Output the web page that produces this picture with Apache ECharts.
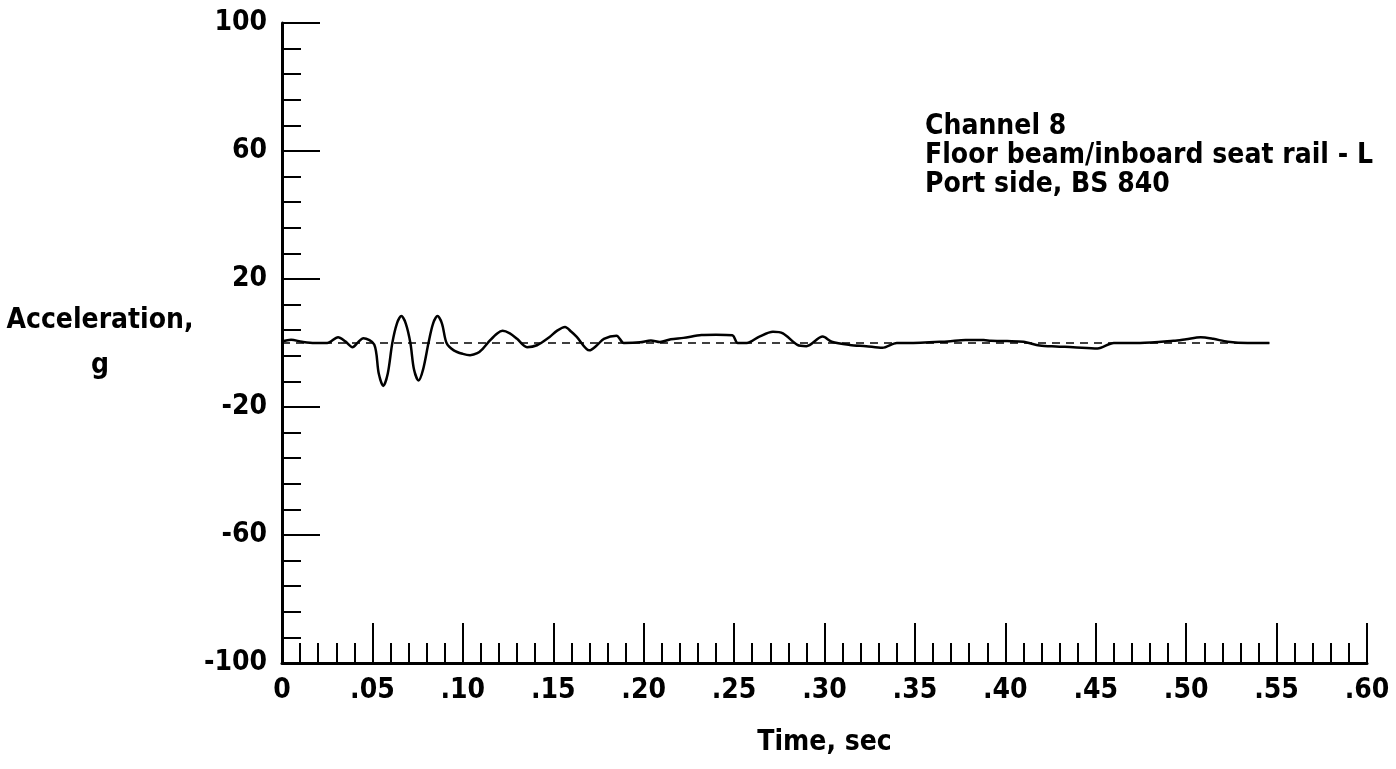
<!DOCTYPE html>
<html>
<head>
<meta charset="utf-8">
<script src="https://cdn.jsdelivr.net/npm/echarts@6/dist/echarts.min.js"></script>
<style>
  html, body { margin: 0; padding: 0; background: #fff; }
  #chart { width: 1396px; height: 769px; }
</style>
</head>
<body>
<div id="chart"></div>
<script>
// values: time (sec) and acceleration (g)
var timeSec = [
  0, 0.005, 0.011, 0.018, 0.025, 0.031, 0.035, 0.039, 0.042, 0.045, 0.051,
  0.0535, 0.056, 0.0585, 0.061, 0.0635, 0.066, 0.0685, 0.071, 0.073, 0.0755,
  0.078, 0.081, 0.0835, 0.086, 0.0885, 0.091, 0.095, 0.100, 0.104, 0.108,
  0.111, 0.115, 0.119, 0.122, 0.126, 0.130, 0.1355, 0.141, 0.148, 0.152,
  0.1565, 0.160, 0.163, 0.170, 0.174, 0.178, 0.185, 0.189, 0.198, 0.204,
  0.209, 0.215, 0.222, 0.232, 0.240, 0.249, 0.252, 0.257, 0.264, 0.2715,
  0.277, 0.285, 0.290, 0.299, 0.304, 0.314, 0.323, 0.332, 0.340, 0.346,
  0.368, 0.378, 0.388, 0.392, 0.401, 0.410, 0.419, 0.428, 0.4375, 0.451,
  0.460, 0.4745, 0.493, 0.500, 0.508, 0.515, 0.523, 0.534, 0.546
];
var accelG = [
  0.5, 1.0, 0.4, 0, 0, 1.8, 0.5, -1.3, 0.2, 1.5, -0.5,
  -9.5, -13.4, -9.5, 0, 6, 8.4, 6, 0, -8.3, -11.7,
  -8.3, 0, 6, 8.4, 6, 0, -2.3, -3.4, -3.8, -3.2,
  -1.8, 0.8, 3.0, 3.8, 3.0, 1.3, -1.3, -0.7, 1.9, 3.8,
  5.0, 3.5, 1.9, -2.3, -0.8, 1.3, 2.3, 0, 0.2, 0.8,
  0.3, 1.2, 1.6, 2.5, 2.6, 2.4, 0, 0, 2.0, 3.5,
  3.0, -0.6, -1.0, 2.0, 0.4, -0.6, -1.0, -1.5, 0, 0,
  0.5, 0.9, 0.9, 0.7, 0.6, 0.4, -0.8, -1.1, -1.3, -1.7,
  0, 0, 0.7, 1.2, 1.8, 1.3, 0.4, 0, 0
];

var xTickStep = 0.05;
var yMajorTicks = [-100, -60, -20, 20, 60, 100];
var yMinorTicks = [-92, -84, -76, -68, -52, -44, -36, -28, -12, -4, 4, 12, 28, 36, 44, 52, 68, 76, 84, 92];
var zeroLineEnd = 0.546;

var noteText = 'Channel 8\nFloor beam/inboard seat rail - L\nPort side, BS 840';

var FONT = '"Liberation Sans Narrow", "DejaVu Sans Condensed", sans-serif';

var seriesData = timeSec.map(function (t, i) { return [t, accelG[i]]; });

var chart = echarts.init(document.getElementById('chart'));

chart.setOption({
  backgroundColor: '#fff',
  animation: false,
  title: {
    text: noteText,
    left: 925,
    top: 112,
    padding: 0,
    textStyle: {
      fontFamily: FONT, fontWeight: 'bold', fontSize: 28,
      lineHeight: 29, color: '#000'
    }
  },
  grid: {
    left: 282, right: 29, top: 23, bottom: 106,
    containLabel: false, outerBoundsMode: 'none'
  },
  xAxis: {
    type: 'value',
    min: 0,
    max: 0.6,
    interval: xTickStep,
    name: 'Time, sec',
    nameLocation: 'middle',
    nameGap: 66,
    nameTextStyle: { fontFamily: FONT, fontWeight: 'bold', fontSize: 28, color: '#000' },
    axisLine: { show: true, onZero: false, lineStyle: { color: '#000', width: 3 } },
    axisTick: { show: true, inside: true, length: 40, lineStyle: { color: '#000', width: 2 } },
    minorTick: { show: true, splitNumber: 5, length: 20, lineStyle: { color: '#000', width: 2 } },
    axisLabel: {
      margin: 14,
      fontFamily: FONT, fontWeight: 'bold', fontSize: 28, color: '#000',
      formatter: function (v) {
        if (v === 0) return '0';
        return v.toFixed(2).replace(/^0/, '');
      }
    },
    splitLine: { show: false }
  },
  yAxis: [{
    type: 'value',
    min: -100,
    max: 100,
    name: 'Acceleration,\ng',
    nameLocation: 'middle',
    nameRotate: 0,
    nameGap: 182,
    nameTextStyle: {
      fontFamily: FONT, fontWeight: 'bold', fontSize: 28, color: '#000',
      lineHeight: 45, align: 'center', padding: [0, 0, 28, 0]
    },
    axisLine: { show: true, onZero: false, lineStyle: { color: '#000', width: 3 } },
    axisTick: {
      show: true, inside: true, length: 38, customValues: yMajorTicks,
      lineStyle: { color: '#000', width: 2 }
    },
    axisLabel: {
      margin: 15, customValues: yMajorTicks,
      fontFamily: FONT, fontWeight: 'bold', fontSize: 28, color: '#000'
    },
    splitLine: { show: false }
  }, {
    type: 'value',
    min: -100,
    max: 100,
    position: 'left',
    axisLine: { show: false, onZero: false },
    axisTick: {
      show: true, inside: true, length: 19, customValues: yMinorTicks,
      lineStyle: { color: '#000', width: 2 }
    },
    axisLabel: { show: false },
    splitLine: { show: false }
  }],
  series: [{
    type: 'line',
    data: seriesData,
    showSymbol: false,
    smooth: 0.3,
    lineStyle: { color: '#000', width: 2.5 },
    markLine: {
      silent: true,
      symbol: 'none',
      label: { show: false },
      lineStyle: { color: '#000', width: 1.5, type: [8, 6] },
      data: [[{ coord: [0, 0] }, { coord: [zeroLineEnd, 0] }]]
    }
  }]
});
</script>
</body>
</html>
